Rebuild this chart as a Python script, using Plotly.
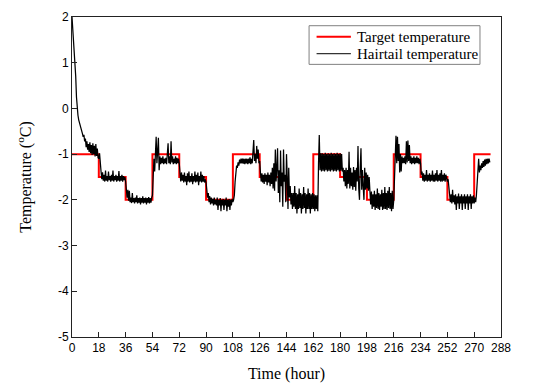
import numpy as np
import plotly.graph_objects as go

# ---------------- data ----------------
# Target temperature (step function, value holds from each step time to the next)
step_hours = [0, 18, 36, 54, 72, 90, 108, 126, 144, 162, 180, 198, 216, 234, 252, 270, 281]
target_levels = [-1, -1.5, -2, -1, -1.5, -2, -1, -1.5, -2, -1, -1.5, -2, -1, -1.5, -2, -1, -1]

# Hairtail temperature, sampled every 0.5 h, one list per 18-h block
sample_step = 0.5
seg_00 = [2.0, 1.78, 1.55, 1.3, 1.05, 0.7, 0.25, -0.05, -0.15, -0.25, -0.3, -0.38, -0.45, -0.5, -0.55, -0.62,
          -0.58, -0.72, -0.66, -0.85, -0.72, -0.9, -0.78, -0.95, -0.74, -0.98, -0.8, -1.02, -0.76, -1.0,
          -0.82, -1.05, -0.78, -1.04, -0.88, -1.08]
seg_18 = [-1.1, -0.98, -1.3, -1.38, -1.55, -1.4, -1.58, -1.45, -1.6, -1.36, -1.58, -1.48, -1.6, -1.38, -1.57,
          -1.48, -1.6, -1.45, -1.58, -1.36, -1.6, -1.48, -1.57, -1.45, -1.6, -1.48, -1.58, -1.37, -1.6, -1.48,
          -1.58, -1.45, -1.6, -1.48, -1.57, -1.5]
seg_36 = [-1.6, -1.75, -1.95, -1.78, -2.02, -1.8, -2.05, -1.95, -2.07, -1.85, -2.05, -1.96, -2.08, -1.95, -2.05,
          -1.9, -2.08, -1.96, -2.06, -1.95, -2.1, -1.96, -2.06, -1.92, -2.08, -1.96, -2.06, -1.95, -2.1, -1.96,
          -2.06, -1.94, -2.08, -1.96, -2.06, -1.95]
seg_54 = [-1.9, -1.5, -1.1, -1.38, -1.0, -0.62, -1.2, -1.0, -0.64, -1.35, -1.05, -1.22, -1.08, -1.2, -1.05,
          -1.22, -1.1, -1.2, -1.08, -1.22, -1.05, -0.76, -1.2, -1.05, -1.22, -0.72, -1.18, -1.05, -1.22, -1.1,
          -1.2, -1.05, -1.22, -1.08, -1.2, -1.1]
seg_72 = [-1.2, -1.45, -1.6, -1.4, -1.58, -1.45, -1.62, -1.4, -1.6, -1.48, -1.68, -1.42, -1.6, -1.38, -1.62,
          -1.48, -1.6, -1.42, -1.66, -1.48, -1.6, -1.38, -1.62, -1.45, -1.6, -1.4, -1.68, -1.48, -1.6, -1.38,
          -1.62, -1.45, -1.6, -1.48, -1.62, -1.55]
seg_90 = [-1.62, -1.78, -1.95, -1.85, -2.05, -1.92, -2.1, -1.95, -2.08, -1.98, -2.12, -1.95, -2.1, -2.0, -2.12,
          -1.95, -2.22, -2.0, -2.12, -1.96, -2.25, -2.0, -2.12, -1.98, -2.22, -2.0, -2.12, -1.95, -2.25, -2.0,
          -2.15, -1.98, -2.22, -2.0, -2.12, -1.98]
seg_108 = [-2.05, -2.0, -1.9, -1.6, -1.35, -1.25, -1.3, -1.18, -1.25, -1.12, -1.2, -1.1, -1.2, -1.1, -1.21,
           -1.1, -1.22, -1.1, -1.2, -1.1, -1.22, -1.1, -1.2, -1.07, -1.22, -1.1, -1.2, -0.95, -0.69, -1.15,
           -1.0, -1.2, -0.82, -1.1, -0.9, -1.2]
seg_126 = [-1.15, -1.4, -1.6, -1.42, -1.62, -1.45, -1.65, -1.42, -1.6, -1.45, -1.68, -1.4, -1.62, -1.45, -1.7,
           -1.4, -1.65, -1.3, -1.75, -1.2, -1.8, -0.9, -1.6, -1.3, -0.87, -1.85, -1.35, -2.05, -0.92, -1.7,
           -1.4, -2.15, -0.9, -1.6, -1.45, -2.05]
seg_144 = [-1.0, -1.5, -2.2, -1.3, -1.95, -1.7, -2.1, -1.85, -2.2, -1.85, -2.15, -1.7, -2.2, -1.85, -2.3,
           -1.88, -2.2, -1.75, -2.18, -1.85, -2.3, -1.88, -2.2, -1.72, -2.18, -1.85, -2.3, -1.88, -2.2, -1.75,
           -2.2, -1.85, -2.3, -1.88, -2.2, -1.85]
seg_162 = [-2.2, -1.88, -2.25, -1.9, -2.2, -1.9, -2.25, -1.2, -0.58, -1.35, -0.98, -1.38, -0.98, -1.36, -1.0,
           -1.38, -0.97, -1.35, -1.0, -1.38, -0.98, -1.36, -1.0, -1.38, -0.97, -1.35, -1.0, -1.38, -0.98, -1.36,
           -1.0, -1.38, -0.97, -1.35, -1.0, -1.38]
seg_180 = [-0.98, -1.36, -1.0, -1.38, -1.3, -1.6, -1.35, -1.7, -1.3, -1.75, -1.35, -1.65, -0.95, -1.75, -1.3,
           -1.7, -1.4, -1.78, -1.28, -1.72, -1.35, -1.8, -1.3, -1.6, -0.82, -1.75, -2.0, -1.3, -0.87, -1.78,
           -1.35, -1.72, -2.0, -1.3, -1.78, -1.4]
seg_198 = [-1.75, -1.45, -1.8, -1.5, -1.85, -2.1, -1.82, -2.2, -1.88, -2.15, -1.8, -2.22, -1.88, -2.18, -1.75,
           -2.2, -1.85, -2.22, -1.88, -2.15, -1.78, -2.22, -1.85, -2.2, -1.72, -2.2, -1.85, -2.22, -1.8, -2.18,
           -1.72, -2.2, -1.85, -2.25, -1.8, -2.2]
seg_216 = [-2.0, -1.6, -1.0, -0.6, -1.2, -0.62, -1.15, -0.78, -1.4, -1.0, -1.38, -1.05, -1.2, -1.08, -1.2,
           -1.05, -1.22, -0.72, -1.18, -0.7, -1.15, -0.8, -1.2, -1.05, -1.22, -1.08, -1.2, -1.05, -1.22, -1.08,
           -1.2, -1.05, -1.2, -1.08, -1.22, -1.1]
seg_234 = [-1.2, -1.45, -1.38, -1.58, -1.42, -1.6, -1.45, -1.58, -1.35, -1.6, -1.45, -1.58, -1.42, -1.6, -1.45,
           -1.58, -1.36, -1.6, -1.45, -1.6, -1.42, -1.58, -1.35, -1.6, -1.45, -1.58, -1.42, -1.6, -1.35, -1.6,
           -1.45, -1.58, -1.42, -1.6, -1.45, -1.58]
seg_252 = [-1.6, -1.55, -1.8, -1.95, -2.05, -1.88, -2.08, -1.78, -2.05, -1.9, -2.1, -1.88, -2.22, -1.92, -2.08,
           -1.86, -2.2, -1.92, -2.08, -1.88, -2.22, -1.92, -2.08, -1.88, -2.2, -1.92, -2.08, -1.88, -2.22, -1.92,
           -2.08, -1.88, -2.2, -1.92, -2.08, -1.9]
seg_270 = [-2.08, -1.95, -2.05, -1.9, -1.6, -1.35, -1.1, -1.4, -1.25, -1.35, -1.2, -1.3, -1.15, -1.28, -1.12,
           -1.25, -1.1, -1.22, -1.1, -1.2, -1.1, -1.18]

hairtail_segments = [seg_00, seg_18, seg_36, seg_54, seg_72, seg_90, seg_108, seg_126, seg_144,
                     seg_162, seg_180, seg_198, seg_216, seg_234, seg_252, seg_270]

x_tick_values = [0, 18, 36, 54, 72, 90, 108, 126, 144, 162, 180, 198, 216, 234, 252, 270, 288]
y_tick_values = [2, 1, 0, -1, -2, -3, -4, -5]
y_tick_labels = ["2", "1", "0", "-1", "-2", "-3", "-4", "-5"]

series_names = ["Target temperature", "Hairtail temperature"]
series_colors = ["#ff0000", "#000000"]
series_widths = [2, 1.25]

# ---------------- figure ----------------
hairtail_values = [v for seg in hairtail_segments for v in seg]
hairtail_hours = np.arange(len(hairtail_values)) * sample_step

fig = go.Figure()
fig.add_trace(go.Scatter(
    x=step_hours, y=target_levels, mode="lines", line_shape="hv",
    line=dict(color=series_colors[0], width=series_widths[0]), name=series_names[0]))
fig.add_trace(go.Scatter(
    x=hairtail_hours, y=hairtail_values, mode="lines",
    line=dict(color=series_colors[1], width=series_widths[1]), name=series_names[1]))

axis_common = dict(showline=True, linecolor="#222222", linewidth=1, mirror=True,
                   ticks="inside", ticklen=5, tickcolor="#222222", tickwidth=1,
                   showgrid=False, zeroline=False, automargin=False,
                   tickfont=dict(family="Liberation Sans, Arial", size=12, color="#000000"))

# compact legend box (paper coordinates), drawn like the original's boxed key
legend_box = dict(x0=0.5526, x1=0.951, y0=0.852, y1=0.9728)
legend_rows = [0.9384, 0.8853]
legend_line_x = (0.5701, 0.6501)
legend_text_x = 0.6593

shapes = [dict(type="rect", xref="paper", yref="paper", layer="above",
               x0=legend_box["x0"], x1=legend_box["x1"], y0=legend_box["y0"], y1=legend_box["y1"],
               line=dict(color="#808080", width=1), fillcolor="white")]
annotations = []
for name, color, width, row in zip(series_names, series_colors, series_widths, legend_rows):
    shapes.append(dict(type="line", xref="paper", yref="paper", layer="above",
                       x0=legend_line_x[0], x1=legend_line_x[1], y0=row, y1=row,
                       line=dict(color=color, width=min(width, 1.0) if color == "#000000" else width)))
    annotations.append(dict(xref="paper", yref="paper", x=legend_text_x, y=row,
                            xanchor="left", yanchor="middle", showarrow=False, text=name,
                            font=dict(family="Liberation Serif, Times New Roman", size=15, color="#000000")))

# the page body has an 8 px margin, so the plot area is offset accordingly
fig.update_layout(
    width=547, height=390,
    margin=dict(l=64, r=54, t=9, b=61),
    plot_bgcolor="white", paper_bgcolor="white",
    showlegend=False,
    shapes=shapes,
    annotations=annotations,
    xaxis=dict(range=[0, 288], tickvals=x_tick_values,
               title=dict(text="Time (hour)", standoff=13,
                          font=dict(family="Liberation Serif, Times New Roman", size=16, color="#000000")),
               **axis_common),
    yaxis=dict(range=[-5, 2], tickvals=y_tick_values, ticktext=y_tick_labels,
               title=dict(text="Temperature (<sup>o</sup>C)", standoff=22,
                          font=dict(family="Liberation Serif, Times New Roman", size=16, color="#000000")),
               **axis_common),
)

fig.write_html("out.html")
